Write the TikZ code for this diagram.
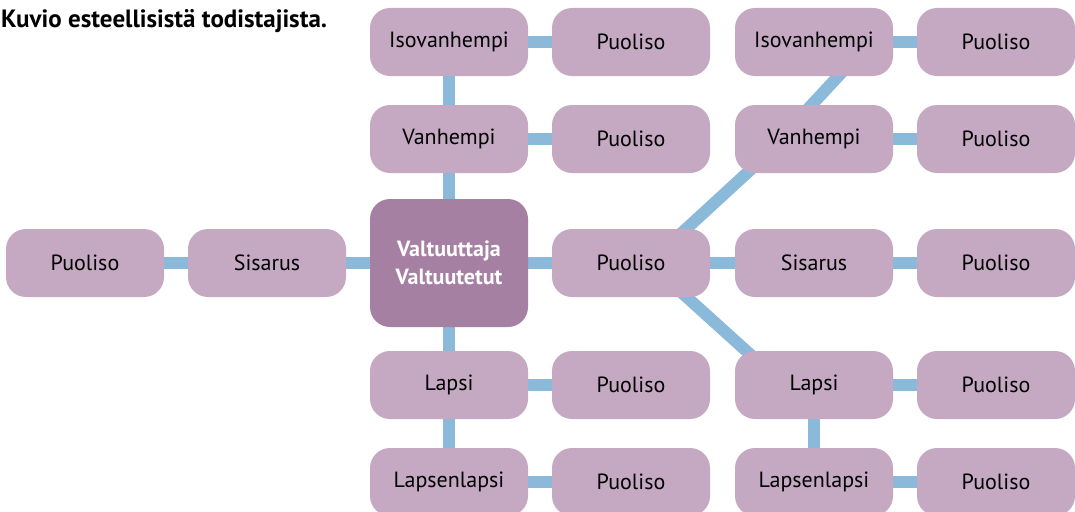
\documentclass[tikz,border=0pt]{standalone}
\usepackage{fontspec}
\setmainfont{PT Sans}
\usetikzlibrary{positioning,backgrounds,calc}
\definecolor{boxlilac}{HTML}{C5A9C3}
\definecolor{centerlilac}{HTML}{A680A2}
\definecolor{linkblue}{HTML}{8BB9DA}

\begin{document}
\begin{tikzpicture}[x=1pt,y=-1pt,
  member/.style={
    fill=boxlilac,
    rounded corners=20pt,
    minimum width=158pt, minimum height=68pt, inner sep=0pt,
    font=\fontsize{22}{26}\selectfont,
  },
  principal/.style={
    member,
    fill=centerlilac,
    minimum height=128pt,
    text=white, align=center,
    font=\bfseries\fontsize{22}{28}\selectfont,
  },
  link/.style={
    draw=linkblue,
    line width=12pt,
  }]
  \useasboundingbox (0,0) rectangle (1075,511);
  \node[anchor=base west, inner sep=0pt, font=\bfseries\fontsize{25}{29}\selectfont] (title) at (1,28) {Kuvio esteellisistä todistajista.};
  % valtuuttajan oma suku
  \node[principal] (vt) at (449,263) {Valtuuttaja\\Valtuutetut};
  \node[member] (iso1) at (449,42) {Isovanhempi};
  \node[member] (van1) at (449,139) {Vanhempi};
  \node[member] (lap1) at (449,385) {Lapsi};
  \node[member] (ll1) at (449,482) {Lapsenlapsi};
  \node[member] (sis0) at (267,263) {Sisarus};
  \node[member] (p0) at (85,263) {Puoliso};
  % puolisot
  \foreach \r/\y in {1/42,2/139,3/263,4/385,5/482}
  {
    \node[member] (p\r) at (631,\y) {Puoliso};
    \node[member] (q\r) at (996,\y) {Puoliso};
  }
  % puolison suku
  \node[member] (iso3) at (814,42) {Isovanhempi};
  \node[member] (van3) at (814,139) {Vanhempi};
  \node[member] (sis3) at (814,263) {Sisarus};
  \node[member] (lap3) at (814,385) {Lapsi};
  \node[member] (ll3) at (814,482) {Lapsenlapsi};
  \begin{scope}[on background layer]
    \foreach \a/\b in {iso1/van1, van1/vt, vt/lap1, lap1/ll1, iso1/p1, van1/p2, vt/p3, lap1/p4, ll1/p5,
      vt/sis0, sis0/p0, p3/sis3, sis3/q3, iso3/q1, van3/q2, lap3/q4, ll3/q5, lap3/ll3}
    {
      \draw[link] (\a.center) -- (\b.center);
    }
    \draw[link] ($(p3.center)+(18,0)$) -- ($(van3.center)+(-30,0)$);
    \draw[link] ($(van3.center)+(-34,0)$) -- ($(iso3.center)+(56,0)$);
    \draw[link] ($(p3.center)+(18,0)$) -- ($(lap3.center)+(-30,0)$);
  \end{scope}
\end{tikzpicture}
\end{document}
